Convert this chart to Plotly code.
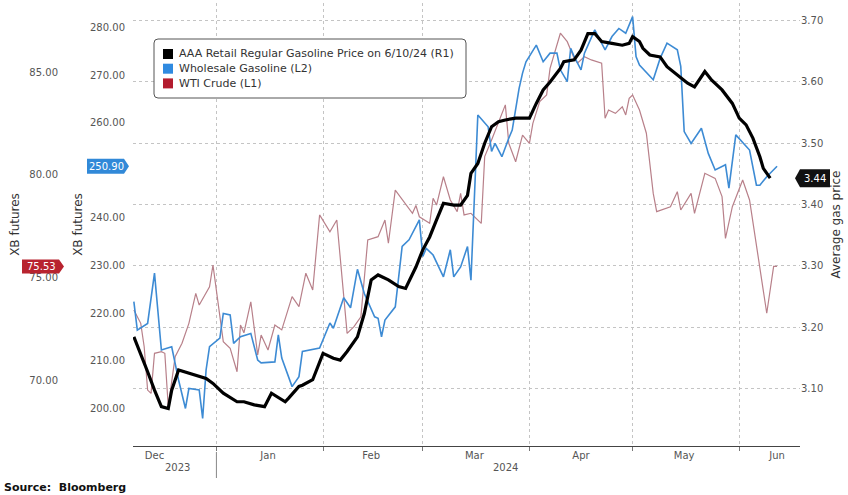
import plotly.graph_objects as go

# ---------------- data ----------------
wti_dates = ["2023-12-08","2023-12-10","2023-12-11","2023-12-12","2023-12-13","2023-12-14","2023-12-16","2023-12-17",
    "2023-12-18","2023-12-20","2023-12-22","2023-12-24","2023-12-26","2023-12-27","2023-12-30","2023-12-31",
    "2024-01-03","2024-01-05","2024-01-07","2024-01-08","2024-01-09","2024-01-11","2024-01-13","2024-01-14",
    "2024-01-16","2024-01-18","2024-01-20","2024-01-23","2024-01-25","2024-01-27","2024-01-29","2024-01-31",
    "2024-02-03","2024-02-05","2024-02-08","2024-02-10","2024-02-12","2024-02-14","2024-02-17","2024-02-19",
    "2024-02-20","2024-02-22","2024-02-27","2024-02-28","2024-02-29","2024-03-03","2024-03-04","2024-03-05",
    "2024-03-07","2024-03-09","2024-03-11","2024-03-12","2024-03-13","2024-03-15","2024-03-18","2024-03-19",
    "2024-03-21","2024-03-23","2024-03-25","2024-03-26","2024-03-28","2024-03-30","2024-04-01","2024-04-02",
    "2024-04-04","2024-04-06","2024-04-07","2024-04-10","2024-04-12","2024-04-14","2024-04-15","2024-04-17",
    "2024-04-19","2024-04-22","2024-04-23","2024-04-24","2024-04-26","2024-04-28","2024-04-29","2024-04-30",
    "2024-05-01","2024-05-03","2024-05-05","2024-05-07","2024-05-08","2024-05-12","2024-05-14","2024-05-15",
    "2024-05-18","2024-05-19","2024-05-22","2024-05-25","2024-05-27","2024-05-28","2024-05-30","2024-06-02",
    "2024-06-04","2024-06-09","2024-06-11","2024-06-12"]
wti_values = [73.41,72.76,71.62,69.51,69.35,71.30,71.38,71.30,
    68.70,71.13,71.79,72.76,74.22,73.65,74.54,75.60,
    71.87,71.54,70.40,72.68,72.30,73.81,71.22,72.19,
    71.46,72.68,72.44,74.06,73.57,75.20,74.38,78.04,
    77.22,77.79,72.27,72.60,73.08,76.82,76.98,77.79,
    76.66,79.25,78.12,78.50,77.95,77.63,78.85,78.52,
    79.90,78.77,78.20,79.09,78.04,78.12,77.63,80.88,
    81.69,82.50,83.40,81.53,80.63,81.93,81.53,82.50,
    83.56,83.88,85.18,86.89,86.48,85.67,85.44,85.75,
    85.59,85.43,82.75,83.15,82.99,83.31,82.91,83.72,
    83.88,83.15,82.02,79.09,78.20,78.44,79.17,78.28,
    79.09,78.12,80.07,79.82,78.93,76.90,78.44,79.74,
    78.77,73.25,75.53,75.53]

xb_dates = ["2023-12-08","2023-12-09","2023-12-12","2023-12-14","2023-12-16","2023-12-19","2023-12-21","2023-12-23",
    "2023-12-24","2023-12-27","2023-12-28","2023-12-29","2023-12-30","2024-01-02","2024-01-03","2024-01-05",
    "2024-01-06","2024-01-08","2024-01-11","2024-01-13","2024-01-14","2024-01-18","2024-01-19","2024-01-20",
    "2024-01-23","2024-01-25","2024-01-26","2024-01-31","2024-02-03","2024-02-04","2024-02-07","2024-02-09",
    "2024-02-11","2024-02-13","2024-02-16","2024-02-17","2024-02-18","2024-02-19","2024-02-22","2024-02-24",
    "2024-02-26","2024-02-29","2024-03-01","2024-03-02","2024-03-04","2024-03-07","2024-03-09","2024-03-10",
    "2024-03-12","2024-03-14","2024-03-15","2024-03-17","2024-03-20","2024-03-21","2024-03-22","2024-03-24",
    "2024-03-26","2024-03-27","2024-03-29","2024-03-30","2024-03-31","2024-04-03","2024-04-05","2024-04-07",
    "2024-04-09","2024-04-10","2024-04-12","2024-04-13","2024-04-14","2024-04-16","2024-04-17","2024-04-20",
    "2024-04-23","2024-04-25","2024-04-27","2024-04-29","2024-05-01","2024-05-02","2024-05-03","2024-05-07",
    "2024-05-09","2024-05-11","2024-05-14","2024-05-15","2024-05-16","2024-05-18","2024-05-21","2024-05-23",
    "2024-05-25","2024-05-28","2024-05-29","2024-05-31","2024-06-04","2024-06-06","2024-06-07","2024-06-09",
    "2024-06-12"]
xb_values = [222.4,216.4,217.8,228.4,212.2,212.9,205.9,199.9,
    204.1,203.8,197.8,208.0,212.9,214.7,219.9,219.6,
    213.6,215.0,215.7,210.1,209.5,209.7,215.4,210.5,
    204.5,206.6,211.9,212.6,217.9,216.8,223.2,221.1,
    229.2,224.1,219.2,218.9,215.0,218.5,221.3,234.0,
    235.4,239.6,231.9,233.6,232.2,227.6,233.3,227.6,
    229.7,234.0,226.9,261.7,259.2,254.0,255.7,252.9,
    256.8,258.5,267.3,270.5,272.9,276.4,272.9,274.7,
    274.7,271.2,268.7,275.7,274.0,271.2,274.7,279.6,
    275.4,278.2,279.9,278.9,282.4,274.0,272.2,269.1,
    273.6,276.8,275.4,271.9,258.2,255.7,258.9,253.6,
    250.1,251.2,246.3,257.5,254.3,246.9,246.9,248.7,
    250.9]

aaa_dates = ["2023-12-08","2023-12-10","2023-12-12","2023-12-14","2023-12-16","2023-12-18","2023-12-19","2023-12-21",
    "2023-12-26","2023-12-29","2023-12-31","2024-01-03","2024-01-07","2024-01-09","2024-01-12","2024-01-15",
    "2024-01-17","2024-01-21","2024-01-22","2024-01-25","2024-01-26","2024-01-29","2024-02-01","2024-02-04",
    "2024-02-06","2024-02-08","2024-02-11","2024-02-13","2024-02-15","2024-02-17","2024-02-20","2024-02-23",
    "2024-02-25","2024-02-28","2024-03-01","2024-03-03","2024-03-05","2024-03-07","2024-03-10","2024-03-12",
    "2024-03-14","2024-03-15","2024-03-17","2024-03-19","2024-03-21","2024-03-23","2024-03-25","2024-03-28",
    "2024-03-30","2024-04-01","2024-04-03","2024-04-05","2024-04-07","2024-04-10","2024-04-11","2024-04-14",
    "2024-04-16","2024-04-18","2024-04-20","2024-04-22","2024-04-25","2024-04-28","2024-04-30","2024-05-01",
    "2024-05-03","2024-05-04","2024-05-06","2024-05-09","2024-05-11","2024-05-14","2024-05-17","2024-05-19",
    "2024-05-22","2024-05-24","2024-05-27","2024-05-30","2024-06-01","2024-06-03","2024-06-05","2024-06-07",
    "2024-06-08","2024-06-10"]
aaa_values = [3.184,3.157,3.127,3.097,3.070,3.067,3.097,3.130,
    3.122,3.116,3.108,3.092,3.078,3.078,3.073,3.070,
    3.092,3.078,3.084,3.103,3.105,3.114,3.157,3.149,
    3.146,3.160,3.184,3.222,3.277,3.285,3.277,3.266,
    3.263,3.298,3.326,3.347,3.375,3.402,3.399,3.399,
    3.415,3.451,3.467,3.500,3.527,3.535,3.538,3.541,
    3.541,3.541,3.565,3.587,3.600,3.622,3.633,3.636,
    3.652,3.679,3.679,3.666,3.663,3.660,3.663,3.674,
    3.666,3.655,3.644,3.641,3.625,3.611,3.598,3.592,
    3.617,3.603,3.587,3.565,3.541,3.530,3.508,3.478,
    3.459,3.443]

series_names = ["AAA Retail Regular Gasoline Price on 6/10/24 (R1)", "Wholesale Gasoline (L2)", "WTI Crude (L1)"]
month_labels = ["Dec", "Jan", "Feb", "Mar", "Apr", "May", "Jun"]
month_label_dates = ["2023-12-14", "2024-01-16", "2024-02-15", "2024-03-16", "2024-04-16", "2024-05-16", "2024-06-12"]
year_labels = ["2023", "2024"]
wti_ticks = [70, 75, 80, 85]
wti_tick_text = ["70.00", "75.00", "80.00", "85.00"]
xb_ticks = [200, 210, 220, 230, 240, 250, 260, 270, 280]
xb_tick_text = ["200.00", "210.00", "220.00", "230.00", "240.00", "", "260.00", "270.00", "280.00"]
aaa_ticks = [3.10, 3.20, 3.30, 3.40, 3.50, 3.60, 3.70]
aaa_tick_text = ["3.10", "3.20", "3.30", "3.40", "3.50", "3.60", "3.70"]

# ---------------- styles ----------------
BLACK = "#000000"
BLUE = "#3d8bd4"
RED_LINE = "#b8808a"
BLUE_KEY = "#2f8ae0"
RED_KEY = "#b31c2e"
FONT = "DejaVu Sans"
TICK_FONT = dict(family=FONT, size=10, color="#555555")
TITLE_FONT = dict(family=FONT, size=12, color="#333333")
GRID = "#c4c4c4"

L, R, T, B = 10, 48, 3, 49
PW = 848 - L - R
PH = 495 - T - B


def px_x(px):
    return (px - L) / PW


def px_y(py):
    return (495 - B - py) / PH


fig = go.Figure()

fig.add_trace(go.Scatter(x=wti_dates, y=wti_values, mode="lines", yaxis="y",
                         line=dict(color=RED_LINE, width=1.2), showlegend=False, hoverinfo="skip"))
fig.add_trace(go.Scatter(x=xb_dates, y=xb_values, mode="lines", yaxis="y2",
                         line=dict(color=BLUE, width=1.6), showlegend=False, hoverinfo="skip"))
fig.add_trace(go.Scatter(x=aaa_dates, y=aaa_values, mode="lines", yaxis="y3",
                         line=dict(color=BLACK, width=3.2), showlegend=False, hoverinfo="skip"))

fig.update_layout(
    width=848, height=495,
    margin=dict(l=L, r=R, t=T, b=B),
    paper_bgcolor="white", plot_bgcolor="white",
    font=dict(family=FONT, size=10, color="#333"),
    showlegend=False,
    xaxis=dict(
        domain=[px_x(133), 1],
        type="date",
        range=["2023-12-07 18:00", "2024-06-18 16:00"],
        tickmode="array", tickvals=month_label_dates, ticktext=month_labels,
        ticks="", showgrid=False, tickfont=TICK_FONT,
        showline=True, linecolor="#444", linewidth=1,
        minor=dict(dtick="M1", tick0="2024-01-01", showgrid=True, gridcolor=GRID,
                   griddash="dot", gridwidth=1, ticks="outside", ticklen=4, tickcolor="#777"),
        zeroline=False,
    ),
    yaxis=dict(
        range=[66.785, 88.363], anchor="free", position=px_x(58), side="left",
        tickmode="array", tickvals=wti_ticks, ticktext=wti_tick_text,
        showgrid=False, zeroline=False, ticks="", tickfont=TICK_FONT,
        title=dict(text="XB futures", font=TITLE_FONT, standoff=6),
    ),
    yaxis2=dict(
        range=[192.0, 285.26], overlaying="y", anchor="x", side="left",
        tickmode="array", tickvals=xb_ticks, ticktext=xb_tick_text,
        showgrid=False, zeroline=False, ticks="", tickfont=TICK_FONT,
        ticklabelstandoff=7,
        title=dict(text="XB futures", font=TITLE_FONT, standoff=4),
    ),
    yaxis3=dict(
        range=[3.0058, 3.7289], overlaying="y", anchor="x", side="right",
        tickmode="array", tickvals=aaa_ticks, ticktext=aaa_tick_text,
        showgrid=True, gridcolor=GRID, griddash="dot", gridwidth=1,
        zeroline=False, ticks="", tickfont=TICK_FONT,
        title=dict(text="Average gas price", font=TITLE_FONT, standoff=9),
    ),
)

shapes = []
annotations = []

# ---- legend box (drawn as shapes + text) ----
lg_cx, lg_cy = 310, 68.5
shapes.append(dict(
    type="path", xref="paper", yref="paper", xsizemode="pixel", ysizemode="pixel",
    xanchor=px_x(lg_cx), yanchor=px_y(lg_cy),
    path="M -152,-29.5 L 152,-29.5 Q 156,-29.5 156,-25.5 L 156,25.5 Q 156,29.5 152,29.5 "
         "L -152,29.5 Q -156,29.5 -156,25.5 L -156,-25.5 Q -156,-29.5 -152,-29.5 Z",
    line=dict(color="#555555", width=1), fillcolor="white", layer="above"))
row_y = [54, 68.7, 83.4]
for name, col, ry in zip(series_names, [BLACK, BLUE_KEY, RED_KEY], row_y):
    shapes.append(dict(type="rect", xref="paper", yref="paper",
                       x0=px_x(163), x1=px_x(173), y0=px_y(ry + 5), y1=px_y(ry - 5),
                       line=dict(width=0), fillcolor=col, layer="above"))
    annotations.append(dict(text=name, xref="paper", yref="paper", x=px_x(177), y=px_y(ry),
                            xanchor="left", yanchor="middle", showarrow=False,
                            font=dict(family=FONT, size=11, color="#333333")))

# ---- last-value tags ----
def tag(value, yref, cx, color, path, text):
    shapes.append(dict(type="path", xref="paper", yref=yref, xsizemode="pixel", ysizemode="pixel",
                       xanchor=px_x(cx), yanchor=value, path=path,
                       line=dict(width=0), fillcolor=color, layer="above"))
    annotations.append(dict(text=text, xref="paper", x=px_x(cx), xanchor="center", yref=yref, y=value,
                            yanchor="middle", showarrow=False,
                            font=dict(family=FONT, size=10, color="white")))

tag(xb_values[-1], "y2", 106, "#3189d8", "M -19,-7.5 L 18,-7.5 L 23,0 L 18,7.5 L -19,7.5 Z",
    f"{xb_values[-1]:.2f}")
tag(wti_values[-1], "y", 41, "#b8232f", "M -19,-7 L 18,-7 L 23,0 L 18,7 L -19,7 Z",
    f"{wti_values[-1]:.2f}")
tag(aaa_values[-1], "y3", 815, "#111111", "M -20,0 L -15,-9 L 15,-9 L 15,9 L -15,9 Z",
    f"{aaa_values[-1]:.2f}")

# ---- year labels, separator, source ----
for lab, cx in zip(year_labels, [177, 505]):
    annotations.append(dict(text=lab, xref="paper", x=px_x(cx), yref="paper", y=px_y(468),
                            showarrow=False, font=TICK_FONT, yanchor="middle", xanchor="center"))
shapes.append(dict(type="line", xref="x", x0="2024-01-01", x1="2024-01-01", yref="paper",
                   y0=px_y(452), y1=px_y(478), line=dict(color="#888", width=1)))
annotations.append(dict(text="<b>Source:  Bloomberg</b>", xref="paper", x=px_x(2), xanchor="left",
                        yref="paper", y=px_y(488), yanchor="middle", showarrow=False,
                        font=dict(family=FONT, size=11, color="#111")))

fig.update_layout(shapes=shapes, annotations=annotations)

fig.write_html("out.html", config={"displayModeBar": False},
               post_script="document.body.style.margin='0';document.body.style.padding='0';")
